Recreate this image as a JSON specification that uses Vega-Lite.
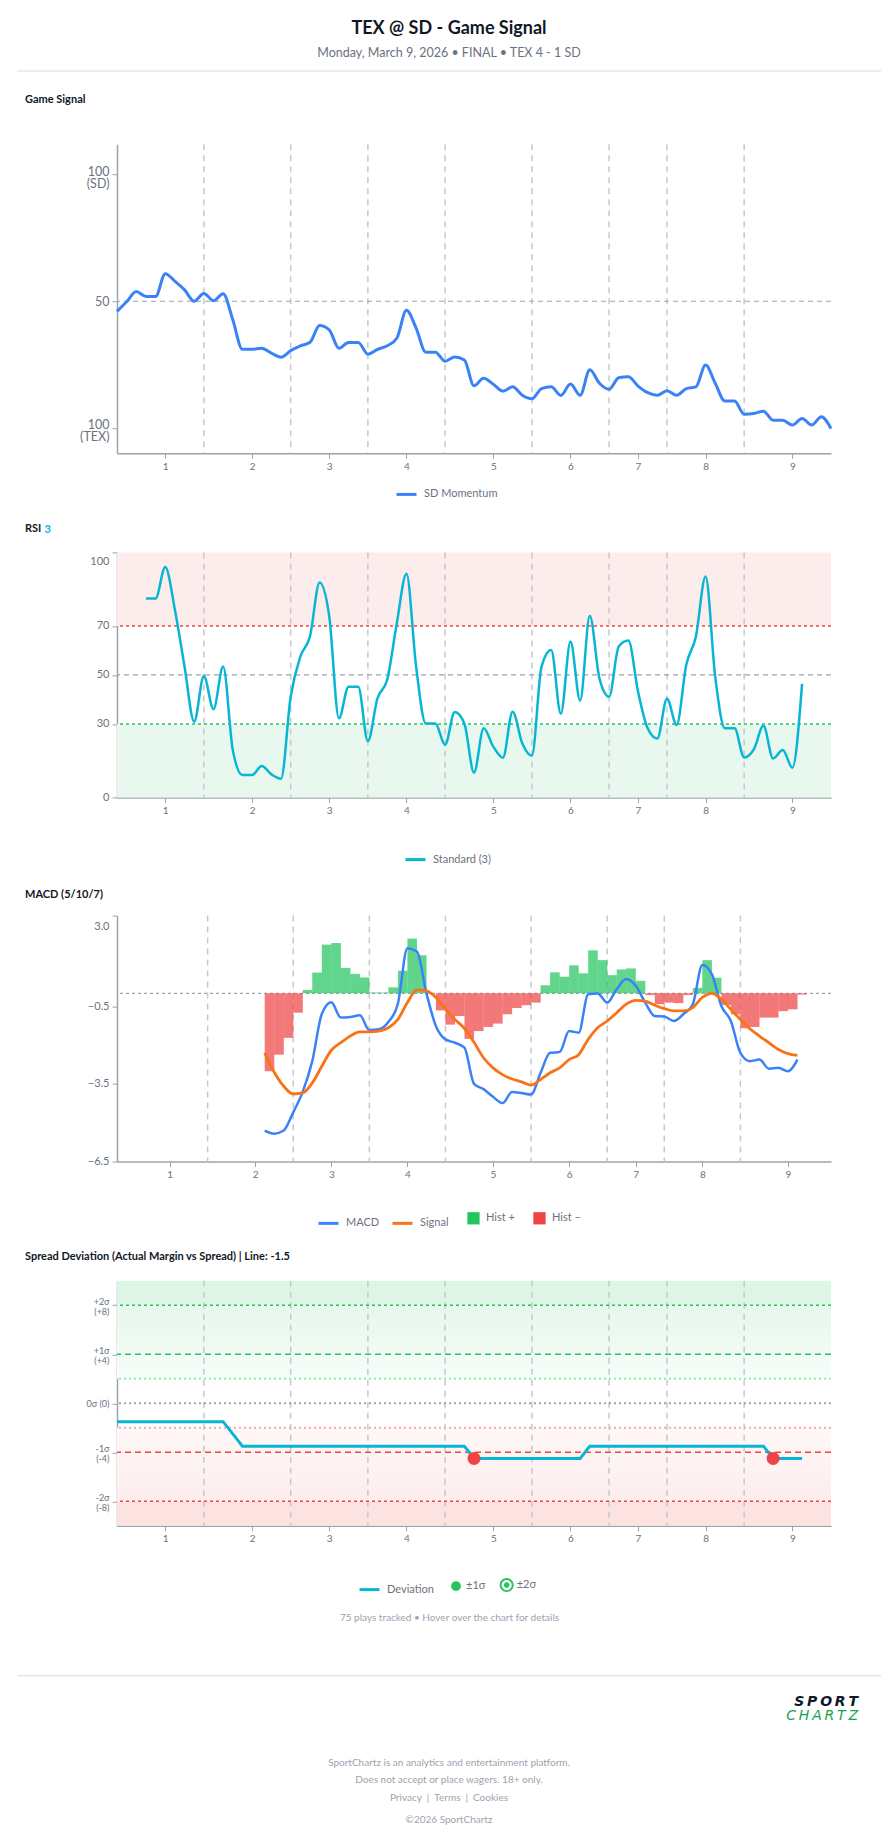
{
  "$schema": "https://vega.github.io/schema/vega-lite/v6.json",
  "background": "white",
  "padding": {"left": 16, "right": 16, "top": 20, "bottom": 10},
  "spacing": 21.2,
  "config": {
    "font": "Lato",
    "view": {"stroke": null},
    "title": {"font": "Lato", "fontSize": 11, "fontWeight": "bold", "color": "#111827", "frame": "group"},
    "axis": {"labelFont": "Lato", "labelColor": "#6b7280", "labelFontSize": 10, "domainColor": "#9ca3af", "domainWidth": 1.5, "tickColor": "#9ca3af", "tickSize": 5, "tickWidth": 1, "grid": false},
    "legend": {"labelFont": "Lato", "labelFontSize": 11, "labelColor": "#6b7280", "orient": "none", "direction": "horizontal", "labelOffset": 6, "columnPadding": 18}
  },
  "resolve": {"scale": {"stroke": "independent", "fill": "independent", "shape": "independent", "color": "independent"}},
  "datasets": {
    "innings": [{"play": 9}, {"play": 18}, {"play": 26}, {"play": 34}, {"play": 43}, {"play": 51}, {"play": 57}, {"play": 65}],
    "momentum": [
      {"play": 0, "v": 46.0}, {"play": 1, "v": 49.8}, {"play": 2, "v": 53.8}, {"play": 3, "v": 51.9}, {"play": 4, "v": 51.9},
      {"play": 5, "v": 60.9}, {"play": 6, "v": 57.9}, {"play": 7, "v": 54.5}, {"play": 8, "v": 50.0}, {"play": 9, "v": 53.1},
      {"play": 10, "v": 50.2}, {"play": 11, "v": 53.0}, {"play": 12, "v": 42.7}, {"play": 13, "v": 31.0}, {"play": 14, "v": 31.0},
      {"play": 15, "v": 31.4}, {"play": 16, "v": 29.5}, {"play": 17, "v": 27.9}, {"play": 18, "v": 30.5}, {"play": 19, "v": 32.4},
      {"play": 20, "v": 33.8}, {"play": 21, "v": 40.4}, {"play": 22, "v": 38.7}, {"play": 23, "v": 31.4}, {"play": 24, "v": 33.7},
      {"play": 25, "v": 33.7}, {"play": 26, "v": 29.1}, {"play": 27, "v": 31.0}, {"play": 28, "v": 32.4}, {"play": 29, "v": 35.4},
      {"play": 30, "v": 46.4}, {"play": 31, "v": 39.4}, {"play": 32, "v": 29.9}, {"play": 33, "v": 29.9}, {"play": 34, "v": 26.3},
      {"play": 35, "v": 28.0}, {"play": 36, "v": 26.8}, {"play": 37, "v": 16.6}, {"play": 38, "v": 19.6}, {"play": 39, "v": 17.2},
      {"play": 40, "v": 14.5}, {"play": 41, "v": 16.2}, {"play": 42, "v": 12.9}, {"play": 43, "v": 11.5}, {"play": 44, "v": 15.5},
      {"play": 45, "v": 16.2}, {"play": 46, "v": 12.8}, {"play": 47, "v": 17.3}, {"play": 48, "v": 12.9}, {"play": 49, "v": 22.9},
      {"play": 50, "v": 17.6}, {"play": 51, "v": 15.2}, {"play": 52, "v": 19.8}, {"play": 53, "v": 20.2}, {"play": 54, "v": 16.5},
      {"play": 55, "v": 13.9}, {"play": 56, "v": 12.9}, {"play": 57, "v": 14.7}, {"play": 58, "v": 12.9}, {"play": 59, "v": 15.5},
      {"play": 60, "v": 16.2}, {"play": 61, "v": 24.8}, {"play": 62, "v": 17.6}, {"play": 63, "v": 10.6}, {"play": 64, "v": 10.6},
      {"play": 65, "v": 5.4}, {"play": 66, "v": 5.7}, {"play": 67, "v": 6.6}, {"play": 68, "v": 3.0}, {"play": 69, "v": 3.0},
      {"play": 70, "v": 1.1}, {"play": 71, "v": 3.7}, {"play": 72, "v": 1.1}, {"play": 73, "v": 4.4}, {"play": 74, "v": -0.3}
    ],
    "rsi": [
      {"play": 3, "rsi": 81.2}, {"play": 4, "rsi": 81.2}, {"play": 5, "rsi": 94.0}, {"play": 6, "rsi": 76.6}, {"play": 7, "rsi": 53.4},
      {"play": 8, "rsi": 30.9}, {"play": 9, "rsi": 49.6}, {"play": 10, "rsi": 36.0}, {"play": 11, "rsi": 53.4}, {"play": 12, "rsi": 19.3},
      {"play": 13, "rsi": 9.1}, {"play": 14, "rsi": 9.1}, {"play": 15, "rsi": 12.8}, {"play": 16, "rsi": 9.4}, {"play": 17, "rsi": 7.6},
      {"play": 18, "rsi": 41.1}, {"play": 19, "rsi": 57.5}, {"play": 20, "rsi": 65.7}, {"play": 21, "rsi": 87.7}, {"play": 22, "rsi": 73.8},
      {"play": 23, "rsi": 32.3}, {"play": 24, "rsi": 45.2}, {"play": 25, "rsi": 45.2}, {"play": 26, "rsi": 23.0}, {"play": 27, "rsi": 40.5},
      {"play": 28, "rsi": 48.0}, {"play": 29, "rsi": 71.1}, {"play": 30, "rsi": 91.3}, {"play": 31, "rsi": 53.4}, {"play": 32, "rsi": 30.2},
      {"play": 33, "rsi": 30.2}, {"play": 34, "rsi": 21.4}, {"play": 35, "rsi": 34.9}, {"play": 36, "rsi": 30.2}, {"play": 37, "rsi": 10.1},
      {"play": 38, "rsi": 28.2}, {"play": 39, "rsi": 20.7}, {"play": 40, "rsi": 16.2}, {"play": 41, "rsi": 35.0}, {"play": 42, "rsi": 22.1},
      {"play": 43, "rsi": 17.0}, {"play": 44, "rsi": 53.4}, {"play": 45, "rsi": 60.2}, {"play": 46, "rsi": 34.1}, {"play": 47, "rsi": 63.6},
      {"play": 48, "rsi": 39.5}, {"play": 49, "rsi": 74.1}, {"play": 50, "rsi": 48.6}, {"play": 51, "rsi": 41.1}, {"play": 52, "rsi": 61.6},
      {"play": 53, "rsi": 64.0}, {"play": 54, "rsi": 43.2}, {"play": 55, "rsi": 28.2}, {"play": 56, "rsi": 24.0}, {"play": 57, "rsi": 40.3},
      {"play": 58, "rsi": 29.6}, {"play": 59, "rsi": 54.1}, {"play": 60, "rsi": 65.7}, {"play": 61, "rsi": 90.2}, {"play": 62, "rsi": 49.3},
      {"play": 63, "rsi": 28.2}, {"play": 64, "rsi": 28.2}, {"play": 65, "rsi": 16.3}, {"play": 66, "rsi": 19.6}, {"play": 67, "rsi": 29.2},
      {"play": 68, "rsi": 15.9}, {"play": 69, "rsi": 19.3}, {"play": 70, "rsi": 12.1}, {"play": 71, "rsi": 46.3}
    ],
    "macd": [
      {"play": 15, "macd": -5.30, "signal": -2.30}, {"play": 16, "macd": -5.42, "signal": -3.05}, {"play": 17, "macd": -5.30, "signal": -3.59},
      {"play": 18, "macd": -4.60, "signal": -3.89}, {"play": 19, "macd": -3.80, "signal": -3.85}, {"play": 20, "macd": -2.62, "signal": -3.46},
      {"play": 21, "macd": -0.80, "signal": -2.82}, {"play": 22, "macd": -0.35, "signal": -2.20}, {"play": 23, "macd": -0.94, "signal": -1.91},
      {"play": 24, "macd": -0.92, "signal": -1.65}, {"play": 25, "macd": -0.85, "signal": -1.49}, {"play": 26, "macd": -1.42, "signal": -1.49},
      {"play": 27, "macd": -1.39, "signal": -1.46}, {"play": 28, "macd": -1.11, "signal": -1.33}, {"play": 29, "macd": -0.40, "signal": -1.01},
      {"play": 30, "macd": 1.74, "signal": -0.36}, {"play": 31, "macd": 1.61, "signal": 0.13}, {"play": 32, "macd": 0.00, "signal": 0.09},
      {"play": 33, "macd": -1.27, "signal": -0.16}, {"play": 34, "macd": -1.78, "signal": -0.62}, {"play": 35, "macd": -1.91, "signal": -1.01},
      {"play": 36, "macd": -2.10, "signal": -1.36}, {"play": 37, "macd": -3.50, "signal": -1.89}, {"play": 38, "macd": -3.70, "signal": -2.49},
      {"play": 39, "macd": -4.00, "signal": -2.88}, {"play": 40, "macd": -4.24, "signal": -3.14}, {"play": 41, "macd": -3.81, "signal": -3.31},
      {"play": 42, "macd": -3.85, "signal": -3.42}, {"play": 43, "macd": -3.91, "signal": -3.55}, {"play": 44, "macd": -3.07, "signal": -3.33},
      {"play": 45, "macd": -2.30, "signal": -3.07}, {"play": 46, "macd": -2.27, "signal": -2.88}, {"play": 47, "macd": -1.46, "signal": -2.56},
      {"play": 48, "macd": -1.52, "signal": -2.37}, {"play": 49, "macd": -0.04, "signal": -1.78}, {"play": 50, "macd": -0.01, "signal": -1.33},
      {"play": 51, "macd": -0.36, "signal": -1.07}, {"play": 52, "macd": 0.16, "signal": -0.75}, {"play": 53, "macd": 0.55, "signal": -0.42},
      {"play": 54, "macd": 0.29, "signal": -0.27}, {"play": 55, "macd": -0.36, "signal": -0.30}, {"play": 56, "macd": -0.88, "signal": -0.46},
      {"play": 57, "macd": -0.90, "signal": -0.59}, {"play": 58, "macd": -1.07, "signal": -0.68}, {"play": 59, "macd": -0.81, "signal": -0.68},
      {"play": 60, "macd": -0.42, "signal": -0.55}, {"play": 61, "macd": 1.09, "signal": -0.16}, {"play": 62, "macd": 0.74, "signal": 0.00},
      {"play": 63, "macd": -0.49, "signal": -0.23}, {"play": 64, "macd": -1.07, "signal": -0.62}, {"play": 65, "macd": -2.30, "signal": -1.01},
      {"play": 66, "macd": -2.62, "signal": -1.37}, {"play": 67, "macd": -2.56, "signal": -1.65}, {"play": 68, "macd": -2.91, "signal": -1.91},
      {"play": 69, "macd": -2.88, "signal": -2.17}, {"play": 70, "macd": -3.01, "signal": -2.33}, {"play": 71, "macd": -2.56, "signal": -2.40}
    ],
    "hist": [
      {"play": 15, "hist": -3.01, "dir": "Hist –"}, {"play": 16, "hist": -2.37, "dir": "Hist –"}, {"play": 17, "hist": -1.72, "dir": "Hist –"},
      {"play": 18, "hist": -0.75, "dir": "Hist –"}, {"play": 19, "hist": 0.13, "dir": "Hist +"}, {"play": 20, "hist": 0.80, "dir": "Hist +"},
      {"play": 21, "hist": 1.88, "dir": "Hist +"}, {"play": 22, "hist": 1.94, "dir": "Hist +"}, {"play": 23, "hist": 0.98, "dir": "Hist +"},
      {"play": 24, "hist": 0.75, "dir": "Hist +"}, {"play": 25, "hist": 0.61, "dir": "Hist +"}, {"play": 26, "hist": 0.03, "dir": "Hist +"},
      {"play": 27, "hist": 0.03, "dir": "Hist +"}, {"play": 28, "hist": 0.23, "dir": "Hist +"}, {"play": 29, "hist": 0.87, "dir": "Hist +"},
      {"play": 30, "hist": 2.11, "dir": "Hist +"}, {"play": 31, "hist": 1.47, "dir": "Hist +"}, {"play": 33, "hist": -0.66, "dir": "Hist –"},
      {"play": 34, "hist": -1.21, "dir": "Hist –"}, {"play": 35, "hist": -0.88, "dir": "Hist –"}, {"play": 36, "hist": -1.76, "dir": "Hist –"},
      {"play": 37, "hist": -1.46, "dir": "Hist –"}, {"play": 38, "hist": -1.30, "dir": "Hist –"}, {"play": 39, "hist": -1.17, "dir": "Hist –"},
      {"play": 40, "hist": -0.81, "dir": "Hist –"}, {"play": 41, "hist": -0.57, "dir": "Hist –"}, {"play": 42, "hist": -0.46, "dir": "Hist –"},
      {"play": 43, "hist": -0.36, "dir": "Hist –"}, {"play": 44, "hist": 0.31, "dir": "Hist +"}, {"play": 45, "hist": 0.81, "dir": "Hist +"},
      {"play": 46, "hist": 0.64, "dir": "Hist +"}, {"play": 47, "hist": 1.08, "dir": "Hist +"}, {"play": 48, "hist": 0.77, "dir": "Hist +"},
      {"play": 49, "hist": 1.66, "dir": "Hist +"}, {"play": 50, "hist": 1.28, "dir": "Hist +"}, {"play": 51, "hist": 0.70, "dir": "Hist +"},
      {"play": 52, "hist": 0.92, "dir": "Hist +"}, {"play": 53, "hist": 0.96, "dir": "Hist +"}, {"play": 54, "hist": 0.48, "dir": "Hist +"},
      {"play": 55, "hist": -0.07, "dir": "Hist –"}, {"play": 56, "hist": -0.42, "dir": "Hist –"}, {"play": 57, "hist": -0.36, "dir": "Hist –"},
      {"play": 58, "hist": -0.38, "dir": "Hist –"}, {"play": 59, "hist": -0.07, "dir": "Hist –"}, {"play": 60, "hist": 0.21, "dir": "Hist +"},
      {"play": 61, "hist": 1.28, "dir": "Hist +"}, {"play": 62, "hist": 0.60, "dir": "Hist +"}, {"play": 63, "hist": -0.45, "dir": "Hist –"},
      {"play": 64, "hist": -0.81, "dir": "Hist –"}, {"play": 65, "hist": -1.35, "dir": "Hist –"}, {"play": 66, "hist": -1.30, "dir": "Hist –"},
      {"play": 67, "hist": -0.94, "dir": "Hist –"}, {"play": 68, "hist": -0.94, "dir": "Hist –"}, {"play": 69, "hist": -0.69, "dir": "Hist –"},
      {"play": 70, "hist": -0.62, "dir": "Hist –"}, {"play": 71, "hist": -0.05, "dir": "Hist –"}
    ],
    "dev": [
      {"play": 0, "dev": -1.5}, {"play": 1, "dev": -1.5}, {"play": 2, "dev": -1.5}, {"play": 3, "dev": -1.5}, {"play": 4, "dev": -1.5},
      {"play": 5, "dev": -1.5}, {"play": 6, "dev": -1.5}, {"play": 7, "dev": -1.5}, {"play": 8, "dev": -1.5}, {"play": 9, "dev": -1.5},
      {"play": 10, "dev": -1.5}, {"play": 11, "dev": -1.5}, {"play": 12, "dev": -2.5}, {"play": 13, "dev": -3.5}, {"play": 14, "dev": -3.5},
      {"play": 15, "dev": -3.5}, {"play": 16, "dev": -3.5}, {"play": 17, "dev": -3.5}, {"play": 18, "dev": -3.5}, {"play": 19, "dev": -3.5},
      {"play": 20, "dev": -3.5}, {"play": 21, "dev": -3.5}, {"play": 22, "dev": -3.5}, {"play": 23, "dev": -3.5}, {"play": 24, "dev": -3.5},
      {"play": 25, "dev": -3.5}, {"play": 26, "dev": -3.5}, {"play": 27, "dev": -3.5}, {"play": 28, "dev": -3.5}, {"play": 29, "dev": -3.5},
      {"play": 30, "dev": -3.5}, {"play": 31, "dev": -3.5}, {"play": 32, "dev": -3.5}, {"play": 33, "dev": -3.5}, {"play": 34, "dev": -3.5},
      {"play": 35, "dev": -3.5}, {"play": 36, "dev": -3.5}, {"play": 37, "dev": -4.5}, {"play": 38, "dev": -4.5}, {"play": 39, "dev": -4.5},
      {"play": 40, "dev": -4.5}, {"play": 41, "dev": -4.5}, {"play": 42, "dev": -4.5}, {"play": 43, "dev": -4.5}, {"play": 44, "dev": -4.5},
      {"play": 45, "dev": -4.5}, {"play": 46, "dev": -4.5}, {"play": 47, "dev": -4.5}, {"play": 48, "dev": -4.5}, {"play": 49, "dev": -3.5},
      {"play": 50, "dev": -3.5}, {"play": 51, "dev": -3.5}, {"play": 52, "dev": -3.5}, {"play": 53, "dev": -3.5}, {"play": 54, "dev": -3.5},
      {"play": 55, "dev": -3.5}, {"play": 56, "dev": -3.5}, {"play": 57, "dev": -3.5}, {"play": 58, "dev": -3.5}, {"play": 59, "dev": -3.5},
      {"play": 60, "dev": -3.5}, {"play": 61, "dev": -3.5}, {"play": 62, "dev": -3.5}, {"play": 63, "dev": -3.5}, {"play": 64, "dev": -3.5},
      {"play": 65, "dev": -3.5}, {"play": 66, "dev": -3.5}, {"play": 67, "dev": -3.5}, {"play": 68, "dev": -4.5}, {"play": 69, "dev": -4.5},
      {"play": 70, "dev": -4.5}, {"play": 71, "dev": -4.5}
    ],
    "sigdots": [{"play": 37, "dev": -4.5, "sigma": "±1σ"}, {"play": 68, "dev": -4.5, "sigma": "±1σ"}]
  },
  "vconcat": [
    {
      "width": 714, "height": 2,
      "title": {"text": "TEX @ SD - Game Signal", "subtitle": "Monday, March 9, 2026 • FINAL • TEX 4 - 1 SD", "anchor": "middle", "align": "center", "dx": -25, "fontSize": 18, "fontWeight": "bold", "color": "#111827", "subtitleFont": "Lato", "subtitleFontSize": 12.5, "subtitleColor": "#6b7280", "subtitlePadding": 9.3, "offset": 10.4},
      "data": {"values": [{"pos": 0}]},
      "mark": {"type": "rule", "stroke": "#e5e7eb", "strokeWidth": 1.5},
      "encoding": {
        "x": {"datum": 0, "type": "quantitative", "scale": {"domain": [0, 1], "range": [-100, 764]}, "axis": null},
        "x2": {"datum": 1},
        "y": {"datum": 1, "type": "quantitative", "scale": {"domain": [0, 1]}, "axis": null}
      }
    },
    {
      "width": 714, "height": 309,
      "title": {"text": "Game Signal", "anchor": "start", "align": "left", "dx": -92, "offset": 38},
      "layer": [
        {"data": {"name": "innings"}, "mark": {"type": "rule", "stroke": "#c4c8cf", "strokeWidth": 1.5, "strokeDash": [6, 5]},
         "encoding": {"x": {"field": "play", "type": "quantitative", "title": null, "scale": {"domain": [0, 74], "nice": false, "zero": false}}}},
        {"data": {"values": [{"level": 50}]}, "mark": {"type": "rule", "stroke": "#9ca3af", "strokeWidth": 1.2, "strokeDash": [5, 4]},
         "encoding": {"y": {"field": "level", "type": "quantitative", "title": null, "scale": {"domain": [-10, 112], "nice": false, "zero": false}}}},
        {"data": {"name": "momentum"}, "mark": {"type": "line", "interpolate": "monotone", "strokeWidth": 3},
         "encoding": {
           "x": {"field": "play", "type": "quantitative", "title": null, "scale": {"domain": [0, 74], "nice": false, "zero": false},
                 "axis": {"values": [5, 14, 22, 30, 39, 47, 54, 61, 70], "labelExpr": "indexof([5,14,22,30,39,47,54,61,70], datum.value) + 1", "title": null, "labelFlush": false, "labelPadding": 3}},
           "y": {"field": "v", "type": "quantitative", "title": null, "scale": {"domain": [-10, 112], "nice": false, "zero": false},
                 "axis": {"values": [0, 50, 100], "labelExpr": "datum.value == 100 ? ['100', '(SD)'] : datum.value == 0 ? ['100', '(TEX)'] : datum.label", "labelFontSize": 12.5, "labelLineHeight": 12, "minExtent": 100, "maxExtent": 100, "labelPadding": 3, "title": null,
                          "labelOffset": {"condition": {"test": "datum.value == 50", "value": 0}, "value": -3}}},
           "stroke": {"datum": "SD Momentum", "type": "nominal", "scale": {"range": ["#3b82f6"]}, "legend": {"title": null, "legendX": 278, "legendY": 338.7, "symbolSize": 400, "symbolStrokeWidth": 3}}
         }}
      ]
    },
    {
      "width": 714, "height": 245,
      "title": {"text": "RSI", "anchor": "start", "align": "left", "dx": -92, "offset": -11},
      "layer": [
        {"data": {"values": [{"lo": 70, "hi": 100}]}, "mark": {"type": "rect", "fill": "#fdecec"},
         "encoding": {"y": {"field": "hi", "type": "quantitative", "scale": {"domain": [0, 100], "nice": false}}, "y2": {"field": "lo"}}},
        {"data": {"values": [{"lo": 0, "hi": 30}]}, "mark": {"type": "rect", "fill": "#e9f8ef"},
         "encoding": {"y": {"field": "hi", "type": "quantitative", "scale": {"domain": [0, 100], "nice": false}}, "y2": {"field": "lo"}}},
        {"data": {"name": "innings"}, "mark": {"type": "rule", "stroke": "#c4c8cf", "strokeWidth": 1.5, "strokeDash": [6, 5]},
         "encoding": {"x": {"field": "play", "type": "quantitative", "title": null, "scale": {"domain": [0, 74], "nice": false, "zero": false}}}},
        {"data": {"values": [{"level": 70}]}, "mark": {"type": "rule", "stroke": "#ef4444", "strokeWidth": 1.5, "strokeDash": [3, 3]},
         "encoding": {"y": {"field": "level", "type": "quantitative", "scale": {"domain": [0, 100], "nice": false}}}},
        {"data": {"values": [{"level": 50}]}, "mark": {"type": "rule", "stroke": "#9ca3af", "strokeWidth": 1.2, "strokeDash": [5, 4]},
         "encoding": {"y": {"field": "level", "type": "quantitative", "scale": {"domain": [0, 100], "nice": false}}}},
        {"data": {"values": [{"level": 30}]}, "mark": {"type": "rule", "stroke": "#22c55e", "strokeWidth": 1.5, "strokeDash": [3, 3]},
         "encoding": {"y": {"field": "level", "type": "quantitative", "scale": {"domain": [0, 100], "nice": false}}}},
        {"data": {"name": "rsi"}, "mark": {"type": "line", "interpolate": "monotone", "strokeWidth": 2.5},
         "encoding": {
           "x": {"field": "play", "type": "quantitative", "title": null, "scale": {"domain": [0, 74], "nice": false, "zero": false},
                 "axis": {"values": [5, 14, 22, 30, 39, 47, 54, 61, 70], "labelExpr": "indexof([5,14,22,30,39,47,54,61,70], datum.value) + 1", "title": null, "labelFlush": false, "labelPadding": 3}},
           "y": {"field": "rsi", "type": "quantitative", "scale": {"domain": [0, 100], "nice": false},
                 "axis": {"values": [0, 30, 50, 70, 100], "labelFontSize": 11, "minExtent": 100, "maxExtent": 100, "labelPadding": 3,
                          "labelBaseline": {"condition": {"test": "datum.value == 100", "value": "top"}, "value": "middle"},
                          "labelOffset": {"condition": {"test": "datum.value == 100", "value": 3}, "value": 0},
                          "title": "3", "titleColor": "#06b6d4", "titleFont": "Lato", "titleFontSize": 11, "titleFontWeight": "bold", "titleAngle": 0, "titleAlign": "left", "titleBaseline": "middle", "titleX": -73, "titleY": -23.2}},
           "stroke": {"datum": "Standard (3)", "type": "nominal", "scale": {"range": ["#06b6d4"]}, "legend": {"title": null, "legendX": 287, "legendY": 295.7, "symbolSize": 400, "symbolStrokeWidth": 3}}
         }}
      ]
    },
    {
      "width": 714, "height": 246,
      "title": {"text": "MACD (5/10/7)", "anchor": "start", "align": "left", "dx": -92, "offset": 15.3},
      "layer": [
        {"data": {"name": "innings"}, "mark": {"type": "rule", "stroke": "#c4c8cf", "strokeWidth": 1.5, "strokeDash": [6, 5]},
         "encoding": {"x": {"field": "play", "type": "quantitative", "title": null, "scale": {"domain": [0, 74], "nice": false, "zero": false}}}},
        {"data": {"values": [{"level": 0}]}, "mark": {"type": "rule", "stroke": "#9ca3af", "strokeWidth": 1.2, "strokeDash": [3, 3]},
         "encoding": {"y": {"field": "level", "type": "quantitative", "title": null, "scale": {"domain": [-6.5, 3], "nice": false, "zero": false}}}},
        {"data": {"name": "hist"}, "mark": {"type": "bar", "width": 9.6, "xOffset": 4.8, "opacity": 0.72},
         "encoding": {
           "x": {"field": "play", "type": "quantitative", "title": null, "scale": {"domain": [0, 74], "nice": false, "zero": false}},
           "y": {"field": "hist", "type": "quantitative", "title": null, "scale": {"domain": [-6.5, 3], "nice": false, "zero": false}},
           "fill": {"field": "dir", "type": "nominal", "scale": {"domain": ["Hist +", "Hist –"], "range": ["#22c55e", "#ef4444"]},
                    "legend": {"title": null, "legendX": 350, "legendY": 296, "symbolSize": 150, "symbolType": "square", "symbolOpacity": 1,
                               "encode": {"symbols": {"update": {"opacity": {"value": 1}, "fillOpacity": {"value": 1}, "strokeWidth": {"value": 0}}}}}}
         }},
        {"data": {"name": "macd"}, "mark": {"type": "line", "interpolate": "monotone", "strokeWidth": 2.5},
         "encoding": {
           "x": {"field": "play", "type": "quantitative", "title": null, "scale": {"domain": [0, 74], "nice": false, "zero": false},
                 "axis": {"values": [5, 14, 22, 30, 39, 47, 54, 61, 70], "labelExpr": "indexof([5,14,22,30,39,47,54,61,70], datum.value) + 1", "title": null, "labelFlush": false, "labelPadding": 3}},
           "y": {"field": "macd", "type": "quantitative", "title": null, "scale": {"domain": [-6.5, 3], "nice": false, "zero": false},
                 "axis": {"values": [-6.5, -3.5, -0.5, 3], "format": ".1f", "labelFontSize": 11, "minExtent": 100, "maxExtent": 100, "labelPadding": 3, "title": null,
                          "labelBaseline": {"condition": {"test": "datum.value == 3", "value": "top"}, "value": "middle"},
                          "labelOffset": {"condition": {"test": "datum.value == 3", "value": 4.5}, "value": 0}}},
           "stroke": {"datum": "MACD", "type": "nominal", "scale": {"domain": ["MACD", "Signal"], "range": ["#3b82f6", "#f97316"]},
                      "legend": {"title": null, "legendX": 200, "legendY": 296, "symbolSize": 400, "symbolStrokeWidth": 3, "columnPadding": 6}}
         }},
        {"data": {"name": "macd"}, "mark": {"type": "line", "interpolate": "monotone", "strokeWidth": 2.8},
         "encoding": {
           "x": {"field": "play", "type": "quantitative", "title": null, "scale": {"domain": [0, 74], "nice": false, "zero": false}},
           "y": {"field": "signal", "type": "quantitative", "title": null, "scale": {"domain": [-6.5, 3], "nice": false, "zero": false}},
           "stroke": {"datum": "Signal", "type": "nominal", "scale": {"domain": ["MACD", "Signal"], "range": ["#3b82f6", "#f97316"]}}
         }}
      ]
    },
    {
      "width": 714, "height": 245,
      "title": {"text": "Spread Deviation (Actual Margin vs Spread) | Line: -1.5", "anchor": "start", "align": "left", "dx": -92, "offset": 18.2},
      "layer": [
        {"data": {"values": [{"lo": 8, "hi": 10}]}, "mark": {"type": "rect", "fill": "#ddf5e5"},
         "encoding": {"y": {"field": "hi", "type": "quantitative", "title": null, "scale": {"domain": [-10, 10], "nice": false}}, "y2": {"field": "lo"}}},
        {"data": {"values": [{"lo": 2, "hi": 8}]}, "mark": {"type": "rect", "fill": {"gradient": "linear", "x1": 0, "y1": 0, "x2": 0, "y2": 1, "stops": [{"offset": 0, "color": "#e6f7ec"}, {"offset": 1, "color": "#f7fdf9"}]}},
         "encoding": {"y": {"field": "hi", "type": "quantitative", "title": null, "scale": {"domain": [-10, 10], "nice": false}}, "y2": {"field": "lo"}}},
        {"data": {"values": [{"lo": -8, "hi": -2}]}, "mark": {"type": "rect", "fill": {"gradient": "linear", "x1": 0, "y1": 0, "x2": 0, "y2": 1, "stops": [{"offset": 0, "color": "#fff8f8"}, {"offset": 1, "color": "#fdeded"}]}},
         "encoding": {"y": {"field": "hi", "type": "quantitative", "title": null, "scale": {"domain": [-10, 10], "nice": false}}, "y2": {"field": "lo"}}},
        {"data": {"values": [{"lo": -10, "hi": -8}]}, "mark": {"type": "rect", "fill": "#fde2e2"},
         "encoding": {"y": {"field": "hi", "type": "quantitative", "title": null, "scale": {"domain": [-10, 10], "nice": false}}, "y2": {"field": "lo"}}},
        {"data": {"name": "innings"}, "mark": {"type": "rule", "stroke": "#c4c8cf", "strokeWidth": 1.5, "strokeDash": [6, 5]},
         "encoding": {"x": {"field": "play", "type": "quantitative", "scale": {"domain": [0, 74], "nice": false, "zero": false}}}},
        {"data": {"values": [{"level": 8}]}, "mark": {"type": "rule", "stroke": "#22c55e", "strokeWidth": 1.5, "strokeDash": [3, 3]},
         "encoding": {"y": {"field": "level", "type": "quantitative", "title": null, "scale": {"domain": [-10, 10], "nice": false}}}},
        {"data": {"values": [{"level": 4}]}, "mark": {"type": "rule", "stroke": "#22c55e", "strokeWidth": 1.5, "strokeDash": [6, 4]},
         "encoding": {"y": {"field": "level", "type": "quantitative", "title": null, "scale": {"domain": [-10, 10], "nice": false}}}},
        {"data": {"values": [{"level": 2}]}, "mark": {"type": "rule", "stroke": "#86efac", "strokeWidth": 2, "strokeDash": [2, 3]},
         "encoding": {"y": {"field": "level", "type": "quantitative", "title": null, "scale": {"domain": [-10, 10], "nice": false}}}},
        {"data": {"values": [{"level": 0}]}, "mark": {"type": "rule", "stroke": "#9ca3af", "strokeWidth": 2, "strokeDash": [2, 3]},
         "encoding": {"y": {"field": "level", "type": "quantitative", "title": null, "scale": {"domain": [-10, 10], "nice": false}}}},
        {"data": {"values": [{"level": -2}]}, "mark": {"type": "rule", "stroke": "#fca5a5", "strokeWidth": 2, "strokeDash": [2, 3]},
         "encoding": {"y": {"field": "level", "type": "quantitative", "title": null, "scale": {"domain": [-10, 10], "nice": false}}}},
        {"data": {"values": [{"level": -4}]}, "mark": {"type": "rule", "stroke": "#ef4444", "strokeWidth": 1.5, "strokeDash": [6, 4]},
         "encoding": {"y": {"field": "level", "type": "quantitative", "title": null, "scale": {"domain": [-10, 10], "nice": false}}}},
        {"data": {"values": [{"level": -8}]}, "mark": {"type": "rule", "stroke": "#ef4444", "strokeWidth": 1.5, "strokeDash": [3, 3]},
         "encoding": {"y": {"field": "level", "type": "quantitative", "title": null, "scale": {"domain": [-10, 10], "nice": false}}}},
        {"data": {"name": "dev"}, "mark": {"type": "line", "strokeWidth": 3},
         "encoding": {
           "x": {"field": "play", "type": "quantitative", "scale": {"domain": [0, 74], "nice": false, "zero": false},
                 "axis": {"values": [5, 14, 22, 30, 39, 47, 54, 61, 70], "labelExpr": "indexof([5,14,22,30,39,47,54,61,70], datum.value) + 1", "labelFlush": false, "labelPadding": 3,
                          "title": "75 plays tracked • Hover over the chart for details", "titleFont": "Lato", "titleFontSize": 10, "titleFontWeight": "normal", "titleColor": "#9ca3af", "titleAngle": 0, "titleAlign": "center", "titleBaseline": "middle", "titleX": 332, "titleY": 91.6}},
           "y": {"field": "dev", "type": "quantitative", "title": null, "scale": {"domain": [-10, 10], "nice": false},
                 "axis": {"values": [-8, -4, 0, 4, 8], "labelExpr": "datum.value == 8 ? ['+2σ', '(+8)'] : datum.value == 4 ? ['+1σ', '(+4)'] : datum.value == 0 ? '0σ (0)' : datum.value == -4 ? ['-1σ', '(-4)'] : ['-2σ', '(-8)']", "labelFontSize": 9, "labelLineHeight": 10, "minExtent": 100, "maxExtent": 100, "labelPadding": 3, "title": null,
                          "labelOffset": {"condition": {"test": "datum.value == 0", "value": 0}, "value": -4}}},
           "stroke": {"datum": "Deviation", "type": "nominal", "scale": {"range": ["#06b6d4"]}, "legend": {"title": null, "legendX": 241, "legendY": 297.3, "symbolSize": 400, "symbolStrokeWidth": 3}}
         }},
        {"data": {"name": "sigdots"}, "mark": {"type": "point", "shape": "circle", "filled": true, "color": "#ef4444", "size": 169, "opacity": 1},
         "encoding": {
           "x": {"field": "play", "type": "quantitative", "scale": {"domain": [0, 74], "nice": false, "zero": false}},
           "y": {"field": "dev", "type": "quantitative", "title": null, "scale": {"domain": [-10, 10], "nice": false}}
         }},
        {"data": {"name": "sigdots"}, "mark": {"type": "point", "filled": true, "color": "#22c55e", "size": 0, "opacity": 1},
         "encoding": {
           "x": {"field": "play", "type": "quantitative", "scale": {"domain": [0, 74], "nice": false, "zero": false}},
           "y": {"field": "dev", "type": "quantitative", "title": null, "scale": {"domain": [-10, 10], "nice": false}},
           "shape": {"field": "sigma", "type": "nominal",
                     "scale": {"domain": ["±1σ", "±2σ"], "range": ["M0,-0.7A0.7,0.7,0,1,1,0,0.7A0.7,0.7,0,1,1,0,-0.7Z", "M0,-1A1,1,0,1,1,0,1A1,1,0,1,1,0,-1ZM0,-0.72A0.72,0.72,0,1,0,0,0.72A0.72,0.72,0,1,0,0,-0.72ZM0,-0.4A0.4,0.4,0,1,1,0,0.4A0.4,0.4,0,1,1,0,-0.4Z"]},
                     "legend": {"title": null, "legendX": 332, "legendY": 297.3, "symbolSize": 196, "labelOffset": 3, "columnPadding": 13.7, "symbolFillColor": "#22c55e", "symbolStrokeWidth": 0}}
         }}
      ]
    },
    {
      "spacing": 18,
      "vconcat": [
        {
          "width": 714, "height": 31.7,
          "data": {"values": [{"pos": 0}]},
          "mark": {"type": "rule", "stroke": "#e5e7eb", "strokeWidth": 1.5},
          "encoding": {
            "x": {"datum": 0, "type": "quantitative", "scale": {"domain": [0, 1], "range": [-100, 764]}, "axis": null},
            "x2": {"datum": 1},
            "y": {"datum": 0, "type": "quantitative", "scale": {"domain": [0, 1]}, "axis": null}
          }
        },
        {
          "width": 714, "height": 13.2,
          "title": {"text": "S\u2009P\u2009O\u2009R\u2009T", "subtitle": "C\u2009H\u2009A\u2009R\u2009T\u2009Z", "anchor": "end", "align": "right", "dx": 27, "font": "DejaVu Sans", "fontSize": 14, "fontStyle": "italic", "fontWeight": "bold", "color": "#0f172a", "subtitleFont": "DejaVu Sans", "subtitleFontSize": 14, "subtitleFontStyle": "italic", "subtitleFontWeight": "normal", "subtitleColor": "#16a34a", "subtitlePadding": 0, "offset": 2},
          "data": {"values": [{"t": ""}]},
          "mark": {"type": "text"},
          "encoding": {"text": {"field": "t"}}
        },
        {
          "width": 714, "height": 1,
          "title": {"text": ["SportChartz is an analytics and entertainment platform.", "Does not accept or place wagers. 18+ only."], "subtitle": ["Privacy\u2002|\u2002Terms\u2002|\u2002Cookies", "©2026 SportChartz"], "anchor": "middle", "align": "center", "dx": -25, "fontSize": 10, "fontWeight": "normal", "color": "#9ca3af", "lineHeight": 17, "subtitleFont": "Lato", "subtitleFontSize": 10, "subtitleColor": "#9ca3af", "subtitleLineHeight": 22, "subtitlePadding": 8, "offset": 4},
          "data": {"values": [{"t": ""}]},
          "mark": {"type": "text"},
          "encoding": {"text": {"field": "t"}}
        }
      ]
    }
  ]
}
